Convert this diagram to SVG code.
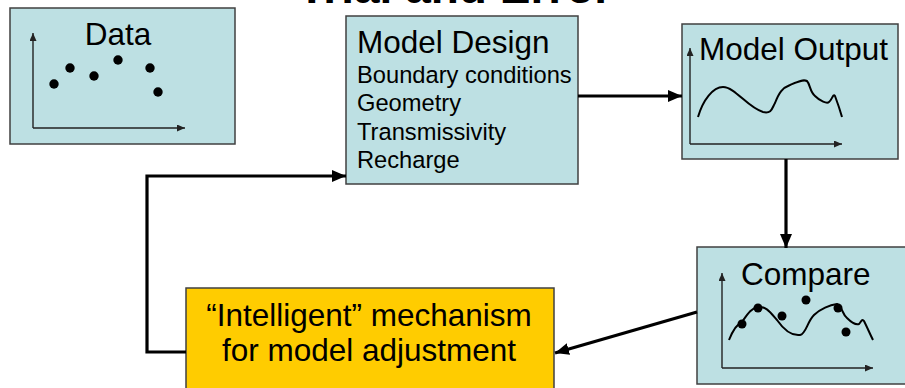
<svg xmlns="http://www.w3.org/2000/svg" width="905" height="388" viewBox="0 0 905 388">
<style>
.box{fill:#bde0e3;stroke:#404040;stroke-width:1.5}
.ybox{fill:#ffcc00;stroke:#404040;stroke-width:1.5}
.t{font-family:"Liberation Sans",Arial,sans-serif;fill:#000}
.big{font-size:31.5px}
.sm{font-size:23.7px}
.axis{fill:none;stroke:#222;stroke-width:1.4;marker-end:url(#ah)}
.curve{fill:none;stroke:#000;stroke-width:2}
.conn{fill:none;stroke:#000;stroke-width:3.2}
</style>
<defs>
<marker id="bh" markerUnits="userSpaceOnUse" markerWidth="14" markerHeight="12" refX="14" refY="6" orient="auto"><path d="M0,0 L14,6 L0,12 z" fill="#000"/></marker>
<marker id="ah" markerUnits="userSpaceOnUse" markerWidth="8" markerHeight="7" refX="8" refY="3.5" orient="auto"><path d="M0,0 L8,3.5 L0,7 z" fill="#222"/></marker>
</defs>
<rect width="905" height="388" fill="#fff"/>
<text x="455" y="3" text-anchor="middle" class="t" style="font-size:46px;font-weight:bold" fill="#333">Trial and Error</text>
<g id="data">
<rect class="box" x="10" y="8" width="225" height="136"/>
<text x="118" y="45" text-anchor="middle" class="t big">Data</text>
<path class="axis" d="M33,128 V33"/>
<path class="axis" d="M33,128 H185"/>
<g fill="#000"><circle cx="54" cy="84" r="4.7"/><circle cx="70" cy="68" r="4.7"/><circle cx="94" cy="76" r="4.7"/><circle cx="118" cy="60" r="4.7"/><circle cx="150" cy="68" r="4.7"/><circle cx="158" cy="92" r="4.7"/></g>
</g>
<g id="model-design">
<rect class="box" x="346" y="16" width="232" height="168"/>
<text x="357" y="53" class="t big">Model Design</text>
<text x="357" y="83" class="t sm">Boundary conditions</text>
<text x="357" y="111" class="t sm">Geometry</text>
<text x="357" y="140" class="t sm">Transmissivity</text>
<text x="357" y="168" class="t sm">Recharge</text>
</g>
<g id="model-output">
<rect class="box" x="682" y="24" width="216" height="135"/>
<path class="axis" d="M690,144 V48"/>
<path class="axis" d="M690,144 H842"/>
<text x="699" y="60" class="t big">Model Output</text>
<path class="curve" d="M698,117 C703,100 713,87 723,87 C735,87 748,108 763,112 C772,114 772,108 775,103 C779,93 782,88 790,85 C797,82 803,79 807,81 C810,84 810,92 815,96 C820,101 827,104 829,102 C832,100 833,93 835,96 C838,104 840,110 842,117"/>
</g>
<g id="compare">
<rect class="box" x="697" y="247" width="215" height="137"/>
<text x="741" y="285" class="t big">Compare</text>
<path class="axis" d="M722,368 V273"/>
<path class="axis" d="M722,368 H873"/>
<path class="curve" d="M729,340 C733,330 737,324 742,322 C747,315 751,308 758,307 C766,306 770,312 777,320 C784,330 792,336 800,335 C806,334 807,322 814,315 C820,309 830,305 837,304 C842,306 842,314 847,318 C852,323 856,325 859,324 C861,322 862,318 864,321 C867,327 870,334 873,340"/>
<g fill="#000"><circle cx="742" cy="324" r="4.5"/><circle cx="758" cy="308" r="4.5"/><circle cx="782" cy="316" r="4.5"/><circle cx="806" cy="300" r="4.5"/><circle cx="838" cy="308" r="4.5"/><circle cx="846" cy="332" r="4.5"/></g>
</g>
<g id="adjust">
<rect class="ybox" x="186" y="288" width="368" height="105"/>
<text x="369" y="326" text-anchor="middle" class="t big">“Intelligent” mechanism</text>
<text x="369" y="361" text-anchor="middle" class="t big">for model adjustment</text>
</g>
<g id="connectors">
<path class="conn" d="M578,96 H682" marker-end="url(#bh)"/>
<path class="conn" d="M786,159 V248" marker-end="url(#bh)"/>
<path class="conn" d="M697,312 L555,353" marker-end="url(#bh)"/>
<path class="conn" d="M186,352 H147 V176 H346" marker-end="url(#bh)"/>
</g>
</svg>
